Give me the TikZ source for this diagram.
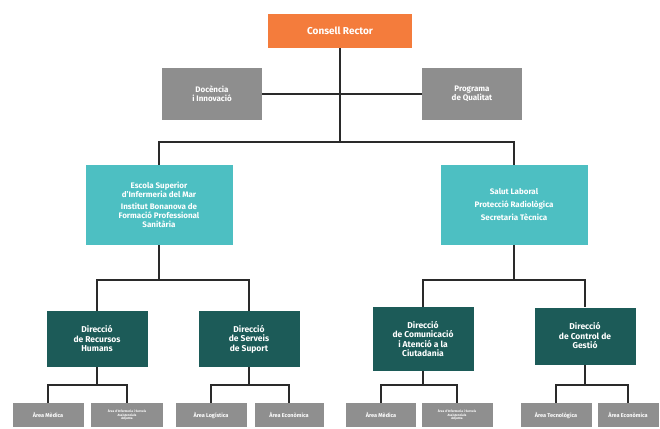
\documentclass[tikz,border=0pt]{standalone}
\usepackage{fontspec}
\setmainfont{Fira Sans}
\usetikzlibrary{calc}
\definecolor{orangebox}{HTML}{F47C3C}
\definecolor{graybox}{HTML}{8E8E8E}
\definecolor{cyanbox}{HTML}{4DBFC2}
\definecolor{tealbox}{HTML}{1C5B58}
\definecolor{lowgray}{HTML}{8F8F8F}
\definecolor{linecol}{HTML}{2A2A2A}
\tikzset{
  base/.style={draw=none, text=white, align=center, inner sep=1pt, font=\fontsize{8}{9}\selectfont\bfseries},
  topbox/.style={base, fill=orangebox, minimum width=144pt, minimum height=34pt, font=\fontsize{10}{11}\selectfont\bfseries},
  greybox/.style={base, fill=graybox, minimum width=100pt, minimum height=52pt},
  cybox/.style={base, fill=cyanbox, minimum width=147pt, minimum height=80pt},
  dkbox/.style={base, fill=tealbox, minimum width=101pt, minimum height=56pt, font=\fontsize{8.5}{9.5}\selectfont\bfseries},
  lowbox/.style={base, fill=lowgray, minimum width=71pt, minimum height=24pt, font=\fontsize{5.5}{6}\selectfont\bfseries},
  tinybox/.style={lowbox, font=\fontsize{3.2}{3.8}\selectfont\bfseries},
  conn/.style={draw=linecol, line width=1.8pt}
}
\begin{document}
\begin{tikzpicture}[x=1pt,y=-1pt]
\useasboundingbox[fill=white] (0,0) rectangle (660,428);
% nodes
\node[topbox] (cr) at (340,31) {Consell Rector};
\node[greybox] (g1) at (212,94) {Docència\\i Innovació};
\node[greybox] (g2) at (472,94) {Programa\\de Qualitat};
\node[cybox] (c1) at (159,205) {Escola Superior\\d'Infermeria del Mar\\[3pt]Institut Bonanova de\\Formació Professional\\Sanitària};
\node[cybox] (c2) at (514,205) {Salut Laboral\\[4pt]Protecció Radiològica\\[4pt]Secretaria Tècnica};
\node[dkbox] (d1) at (97,339) {Direcció\\de Recursos\\Humans};
\node[dkbox] (d2) at (249,339) {Direcció\\de Serveis\\de Suport};
\node[dkbox, minimum height=64pt] (d3) at (423,339) {Direcció\\de Comunicació\\i Atenció a la\\Ciutadania};
\node[dkbox, minimum height=57pt] (d4) at (585,336) {Direcció\\de Control de\\Gestió};
\node[lowbox] (b1) at (48,415) {Àrea Mèdica};
\node[tinybox, minimum width=72pt] (b2) at (127,415) {Àrea d'Infermeria i Serveis\\Assistencials\\Adjunta};
\node[lowbox] (b3) at (211,415) {Àrea Logística};
\node[lowbox, minimum width=69pt] (b4) at (289,415) {Àrea Econòmica};
\node[lowbox, minimum width=70pt] (b5) at (381,415) {Àrea Mèdica};
\node[tinybox] (b6) at (457,415) {Àrea d'Infermeria i Serveis\\Assistencials\\Adjunta};
\node[lowbox] (b7) at (556,415) {Àrea Tecnològica};
\node[lowbox, minimum width=61pt] (b8) at (628,415) {Àrea Econòmica};
% connectors
\coordinate (j1) at (340,142);
\draw[conn] (cr.south) -- (j1);
\draw[conn] (g1.east) -- (g2.west);
\draw[conn] (c1.north) |- (j1) -| (c2.north);
\coordinate (j2) at (159,280);
\coordinate (j3) at (514,280);
\draw[conn] (c1.south) -- (j2);
\draw[conn] (c2.south) -- (j3);
\draw[conn] (d1.north) |- (j2) -| (d2.north);
\draw[conn] (d3.north) |- (j3) -| (d4.north);
\coordinate (k1) at (97,385);
\coordinate (k2) at (249,385);
\coordinate (k3) at (423,385);
\coordinate (k4) at (585,385);
\draw[conn] (d1.south) -- (k1);
\draw[conn] (d2.south) -- (k2);
\draw[conn] (d3.south) -- (k3);
\draw[conn] (d4.south) -- (k4);
\draw[conn] (b1.north) |- (k1) -| (b2.north);
\draw[conn] (b3.north) |- (k2) -| (b4.north);
\draw[conn] (b5.north) |- (k3) -| (b6.north);
\draw[conn] (b7.north) |- (k4) -| (b8.north);
\end{tikzpicture}
\end{document}
